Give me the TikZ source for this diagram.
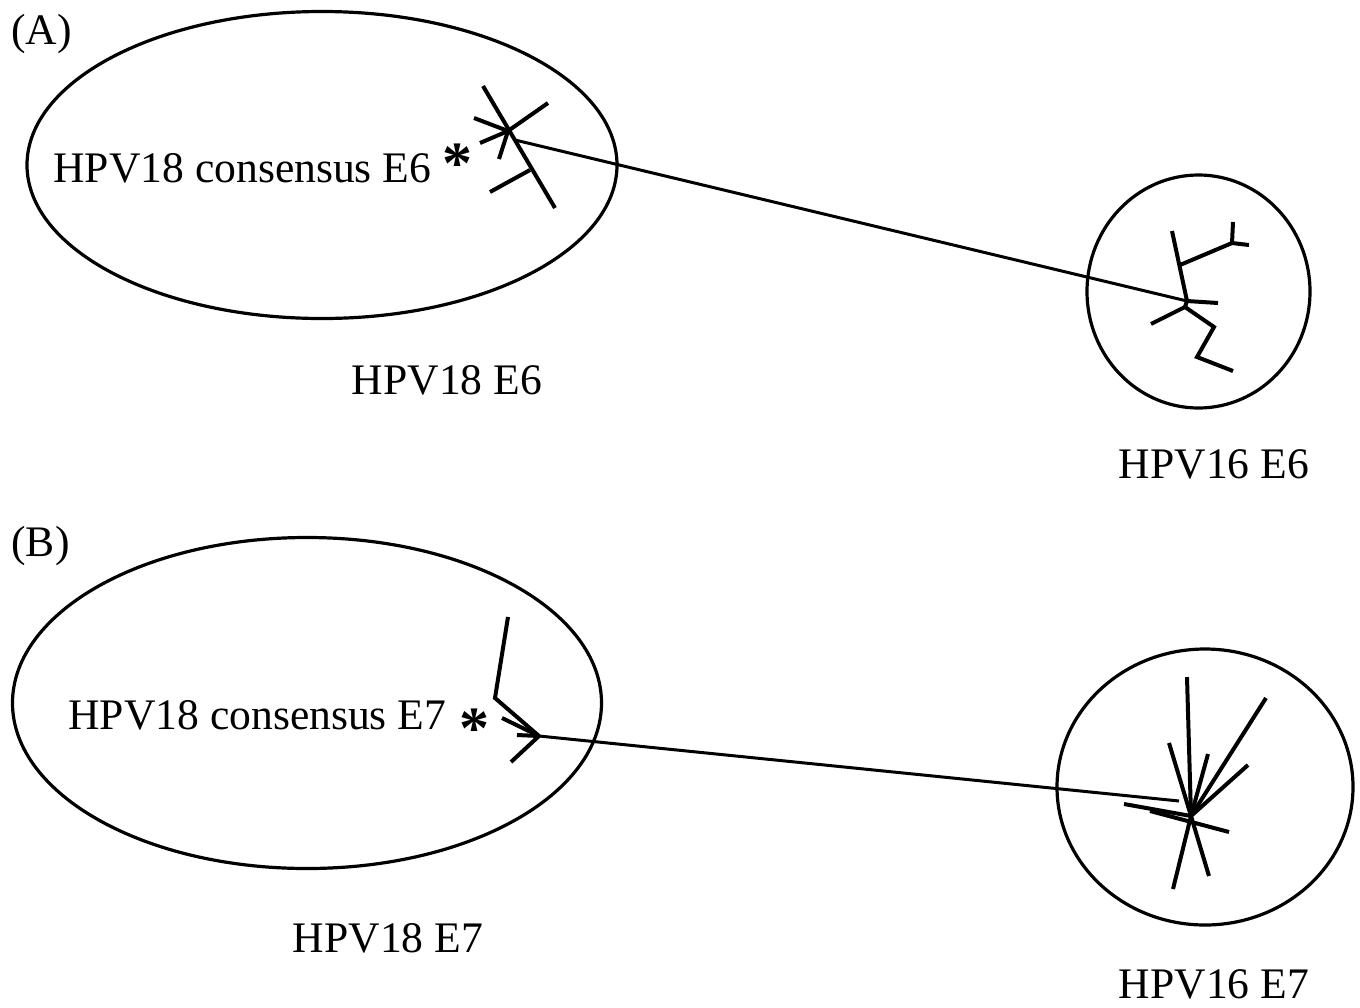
\documentclass[tikz,border=0pt]{standalone}
\usepackage{fontspec}
\setmainfont{Liberation Serif}
\usetikzlibrary{shapes.geometric}

\begin{document}
\begin{tikzpicture}
    [ x = .5pt, y = -.5pt
    , cluster/.style =
      { draw, ellipse, line width=1.6pt, inner sep=0pt }
    , branch/.style =
      { line width=2pt }
    , link/.style =
      { line width=1.5pt }
    , tag/.style =
      { inner sep=0pt, font=\fontsize{21.8}{26}\selectfont }
    , starmark/.style =
      { inner sep=0pt, font=\fontsize{30}{32}\selectfont\bfseries }
    ]
    \useasboundingbox (0,0) rectangle (1360,1007);

    % (A) E6
    \node [tag, anchor=base west] (panelA) at (11,44) {(A)};
    \node [cluster, minimum width=295pt, minimum height=153.5pt] (ell18e6) at (322,165) {};
    \node [cluster, minimum width=111.5pt, minimum height=116.5pt] (ell16e6) at (1198.5,291.5) {};
    \node [tag, anchor=base west] (cons18e6) at (53,182) {HPV18 consensus E6};
    \node [starmark] (star18e6) at (457,164) {*};
    \node [tag, anchor=base] (name18e6) at (447,394) {HPV18 E6};
    \node [tag, anchor=base] (name16e6) at (1214,478) {HPV16 E6};

    \coordinate (a0) at (508,131);
    \coordinate (a1) at (483,86);
    \coordinate (a2) at (555,208);
    \coordinate (a3) at (530,170);
    \coordinate (a4) at (490,192);
    \coordinate (a5) at (548,103);
    \coordinate (a6) at (474,118);
    \coordinate (a7) at (480,143);
    \coordinate (a8) at (499,159);
    \coordinate (aroot) at (515,140);

    \coordinate (b0) at (1187,301);
    \coordinate (b1) at (1172,231);
    \coordinate (b2) at (1180,265);
    \coordinate (b3) at (1232,243);
    \coordinate (b4) at (1233,222);
    \coordinate (b5) at (1249,245);
    \coordinate (b6) at (1218,303);
    \coordinate (b7) at (1185,307);
    \coordinate (b8) at (1151,324);
    \coordinate (b9) at (1214,327);
    \coordinate (b10) at (1197,357);
    \coordinate (b11) at (1233,371);

    \draw [branch] (a1) -- (a2);
    \draw [branch] (a3) -- (a4);
    \draw [branch] (a0) -- (a5);
    \draw [branch] (a0) -- (a6);
    \draw [branch] (a0) -- (a7);
    \draw [branch] (a0) -- (a8);
    \draw [branch] (b1) -- (b0) -- (b7);
    \draw [branch] (b2) -- (b3) -- (b4);
    \draw [branch] (b3) -- (b5);
    \draw [branch] (b0) -- (b6);
    \draw [branch] (b7) -- (b8);
    \draw [branch] (b7) -- (b9) -- (b10) -- (b11);
    \draw [link] (aroot) -- (b0);

    % (B) E7
    \node [tag, anchor=base west] (panelB) at (11,556) {(B)};
    \node [cluster, minimum width=294.5pt, minimum height=165.5pt] (ell18e7) at (307,703) {};
    \node [cluster, minimum width=148pt, minimum height=138pt] (ell16e7) at (1205,787) {};
    \node [tag, anchor=base west] (cons18e7) at (68,729) {HPV18 consensus E7};
    \node [starmark] (star18e7) at (474,729) {*};
    \node [tag, anchor=base] (name18e7) at (388,952) {HPV18 E7};
    \node [tag, anchor=base] (name16e7) at (1214,998) {HPV16 E7};

    \coordinate (c0) at (539,736);
    \coordinate (c1) at (508,617);
    \coordinate (c2) at (495,698);
    \coordinate (c3) at (502,718);
    \coordinate (c4) at (517,735);
    \coordinate (c5) at (511,762);

    \coordinate (d0) at (1191,816);
    \coordinate (d1) at (1187,677);
    \coordinate (d2) at (1266,698);
    \coordinate (d3) at (1248,765);
    \coordinate (d4) at (1208,754);
    \coordinate (d5) at (1169,743);
    \coordinate (d6) at (1124,804);
    \coordinate (d7) at (1150,811);
    \coordinate (d8) at (1229,832);
    \coordinate (d9) at (1173,889);
    \coordinate (d10) at (1209,876);
    \coordinate (dend) at (1179,801);

    \draw [branch] (c1) -- (c2) -- (c0);
    \draw [branch] (c3) -- (c0);
    \draw [branch] (c4) -- (c0);
    \draw [branch] (c5) -- (c0);
    \foreach \tip in {d1,d2,d3,d4,d5,d6,d9,d10}
      \draw [branch] (d0) -- (\tip);
    \draw [branch] (d7) -- (d8);
    \draw [link] (c0) -- (dend);
\end{tikzpicture}
\end{document}
